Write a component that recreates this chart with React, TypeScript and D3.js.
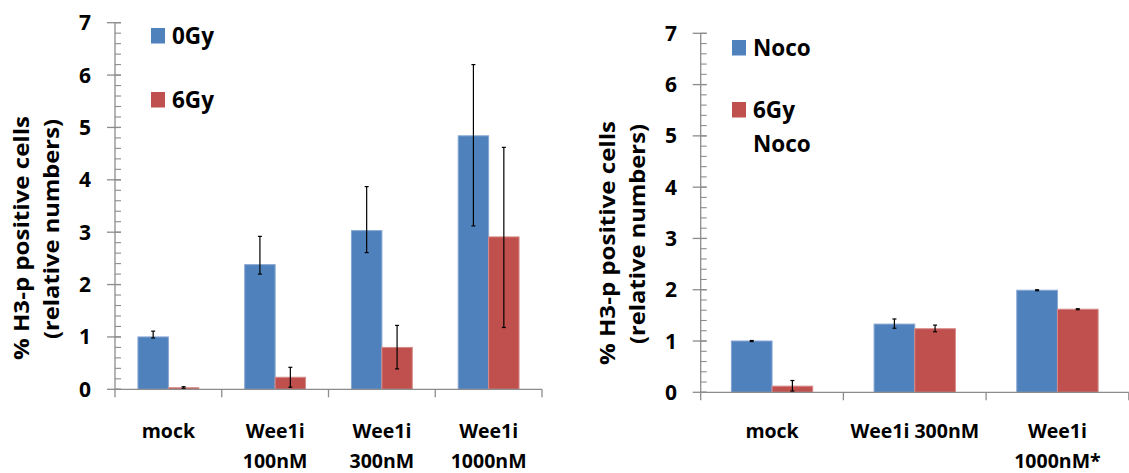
import React from 'react'
import * as d3 from 'd3'

// left panel
const leftCategories = [['mock'], ['Wee1i', '100nM'], ['Wee1i', '300nM'], ['Wee1i', '1000nM']]
const leftSeriesNames = [['0Gy'], ['6Gy']]
const left0Gy = [1.0, 2.38, 3.03, 4.84]
const left0GyHigh = [1.11, 2.92, 3.87, 6.2]
const left0GyLow = [0.98, 2.2, 2.61, 3.12]
const left6Gy = [0.03, 0.23, 0.8, 2.91]
const left6GyHigh = [0.05, 0.42, 1.22, 4.62]
const left6GyLow = [0.02, 0.04, 0.39, 1.18]

// right panel
const rightCategories = [['mock'], ['Wee1i 300nM'], ['Wee1i', '1000nM*']]
const rightSeriesNames = [['Noco'], ['6Gy', 'Noco']]
const rightNoco = [1.0, 1.33, 1.99]
const rightNocoHigh = [1.01, 1.43, 2.0]
const rightNocoLow = [0.99, 1.25, 1.98]
const right6GyNoco = [0.12, 1.24, 1.62]
const right6GyNocoHigh = [0.23, 1.31, 1.63]
const right6GyNocoLow = [0.025, 1.18, 1.61]

const yTicks = [0, 1, 2, 3, 4, 5, 6, 7]
const yTitle = ['% H3-p positive cells', '(relative numbers)']
const yTitleLength = [244, 220]

const colors = ['#4F81BD', '#C0504D']
const edges = ['#86a6d2', '#d68b89']
const axisColor = '#8c8c8c'
const font = '"Open Sans", Lato, sans-serif'

type Panel = {
  categories: string[][]
  names: string[][]
  values: number[][]
  highs: number[][]
  lows: number[][]
  x0: number
  x1: number
  yTop: number
  yBottom: number
  titleX: number[]
  titleY: number[]
  tickRight: number
  legendX: number
  legendY: number[]
}

const panels: Panel[] = [
  {
    categories: leftCategories,
    names: leftSeriesNames,
    values: [left0Gy, left6Gy],
    highs: [left0GyHigh, left6GyHigh],
    lows: [left0GyLow, left6GyLow],
    x0: 115, x1: 542, yTop: 22.7, yBottom: 389.3,
    titleX: [29, 58.5], titleY: [238, 229], tickRight: 91,
    legendX: 151, legendY: [43.5, 107.5],
  },
  {
    categories: rightCategories,
    names: rightSeriesNames,
    values: [rightNoco, right6GyNoco],
    highs: [rightNocoHigh, right6GyNocoHigh],
    lows: [rightNocoLow, right6GyNocoLow],
    x0: 700.7, x1: 1128.8, yTop: 33.3, yBottom: 392.3,
    titleX: [615, 644.5], titleY: [243, 234], tickRight: 677,
    legendX: 732, legendY: [55.5, 117.5],
  },
]

const ChartPanel = ({ p }: { p: Panel }) => {
  const y = d3.scaleLinear().domain([0, 7]).range([p.yBottom, p.yTop])
  const x = d3.scaleBand<number>()
    .domain(p.categories.map((_, i) => i))
    .range([p.x0, p.x1])
  const bw = x.bandwidth()
  const inner = d3.scaleBand<number>()
    .domain([0, 1])
    .range([bw * 0.215, bw * 0.785])
  const minor = d3.range(0, 7.001, 0.2)

  return (
    <g>
      {/* y title */}
      {yTitle.map((t, i) => (
        <text key={t}
          transform={`translate(${p.titleX[i]},${p.titleY[i]}) rotate(-90)`}
          textAnchor="middle" fontFamily={font} fontWeight={700} fontSize={21.5} fill="#000"
          textLength={yTitleLength[i]} lengthAdjust="spacingAndGlyphs">
          {t}
        </text>
      ))}

      {/* y axis */}
      <line x1={p.x0} x2={p.x0} y1={y(7)} y2={y(0)} stroke={axisColor} strokeWidth={1.3} />
      {minor.map((v, i) => (
        <line key={'m' + i} x1={p.x0} x2={p.x0 + 6} y1={y(v)} y2={y(v)} stroke={axisColor} strokeWidth={1.1} />
      ))}
      {yTicks.map(v => (
        <g key={v}>
          <line x1={p.x0 - 8} x2={p.x0 + 6} y1={y(v)} y2={y(v)} stroke={axisColor} strokeWidth={1.3} />
          <text x={p.tickRight} y={y(v)} dy="0.36em" textAnchor="end"
            fontFamily={font} fontWeight={700} fontSize={21} fill="#000">{v}</text>
        </g>
      ))}

      {/* bars */}
      {p.values.map((series, s) => series.map((v, i) => {
        const bx = (x(i) as number) + (inner(s) as number)
        return (
          <rect key={s + '-' + i} x={bx} y={y(v)} width={inner.bandwidth()} height={y(0) - y(v)}
            fill={colors[s]} stroke={edges[s]} strokeWidth={1} />
        )
      }))}

      {/* x axis */}
      <line x1={p.x0} x2={p.x1} y1={y(0)} y2={y(0)} stroke={axisColor} strokeWidth={1.3} />
      {d3.range(p.categories.length + 1).map(i => (
        <line key={'xt' + i} x1={p.x0 + i * bw} x2={p.x0 + i * bw} y1={y(0)} y2={y(0) + 8}
          stroke={axisColor} strokeWidth={1.3} />
      ))}

      {/* error bars */}
      {p.values.map((series, s) => series.map((_, i) => {
        const cx = (x(i) as number) + (inner(s) as number) + inner.bandwidth() / 2
        const hi = y(p.highs[s][i])
        const lo = y(p.lows[s][i])
        return (
          <g key={'e' + s + '-' + i} stroke="#000" strokeWidth={1.2}>
            <line x1={cx} x2={cx} y1={hi} y2={lo} />
            <line x1={cx - 2} x2={cx + 2} y1={hi} y2={hi} />
            <line x1={cx - 2} x2={cx + 2} y1={lo} y2={lo} />
          </g>
        )
      }))}

      {/* category labels */}
      {p.categories.map((lines, i) => (
        <text key={'c' + i} textAnchor="middle" fontFamily={font} fontWeight={700} fontSize={19.5} fill="#000">
          {lines.map((l, j) => (
            <tspan key={j} x={(x(i) as number) + bw / 2} y={438 + j * 30}>{l}</tspan>
          ))}
        </text>
      ))}

      {/* legend */}
      {p.names.map((lines, s) => (
        <g key={'l' + s}>
          <rect x={p.legendX} y={p.legendY[s] - 15.5} width={14} height={15.5} fill={colors[s]} />
          <text fontFamily={font} fontWeight={700} fontSize={22.5} fill="#000">
            {lines.map((l, j) => (
              <tspan key={j} x={p.legendX + 21} y={p.legendY[s] + j * 34}>{l}</tspan>
            ))}
          </text>
        </g>
      ))}
    </g>
  )
}

const App = () => {
  return (
    <svg width={1129} height={473} style={{ position: 'absolute', left: 0, top: 0, background: '#fff' }}>
      {panels.map((p, i) => <ChartPanel key={i} p={p} />)}
    </svg>
  )
}

export default App
